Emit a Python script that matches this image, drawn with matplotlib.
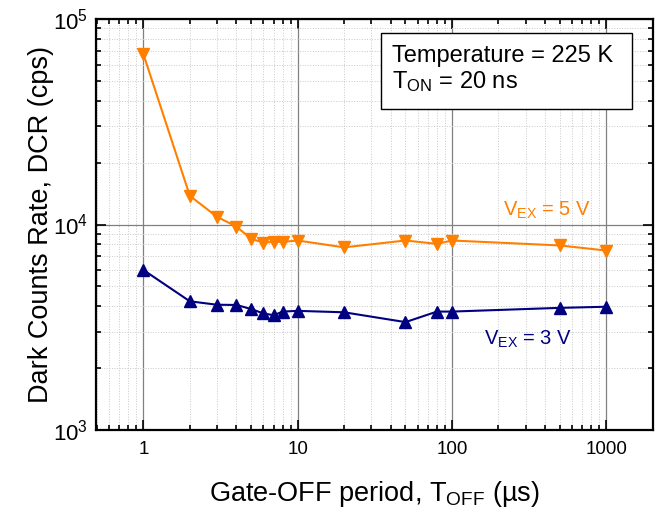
import matplotlib
matplotlib.use('Agg')
import matplotlib.pyplot as plt
from matplotlib.ticker import LogLocator, LogFormatterMathtext, NullFormatter, FixedLocator, FixedFormatter
from matplotlib.patches import Rectangle

plt.rcParams['font.family'] = ['Liberation Sans', 'DejaVu Sans']
plt.rcParams['mathtext.default'] = 'regular'

# gate-off period (us)
t_off = [1, 2, 3, 4, 5, 6, 7, 8, 10, 20, 50, 80, 100, 500, 1000]
# dark count rate (cps)
dcr_5v = [67500, 13800, 10900, 9780, 8510, 8170, 8230, 8230, 8360,
          7740, 8360, 8050, 8360, 7910, 7470]
dcr_3v = [6010, 4230, 4070, 4060, 3880, 3690, 3620, 3770, 3800,
          3740, 3350, 3770, 3770, 3930, 3980]
xticks = [1, 10, 100, 1000]
xticklabels = ['1', '10', '100', '1000']

orange = '#FF8000'
navy = '#000080'

fig = plt.figure(figsize=(6.69, 5.14), dpi=100)
ax = fig.add_axes([0.1435, 0.1634, 0.8325, 0.7996])

ax.plot(t_off, dcr_5v, color=orange, lw=1.5, marker='v', ms=9, mec=orange)
ax.plot(t_off, dcr_3v, color=navy, lw=1.5, marker='^', ms=9, mec=navy)

ax.set_xscale('log')
ax.set_yscale('log')
ax.set_xlim(0.493, 2010)
ax.set_ylim(1e3, 1e5)

ax.xaxis.set_major_locator(FixedLocator(xticks))
ax.xaxis.set_major_formatter(FixedFormatter(xticklabels))
ax.xaxis.set_minor_locator(LogLocator(base=10, subs=range(2, 10), numticks=20))
ax.xaxis.set_minor_formatter(NullFormatter())
ax.yaxis.set_major_locator(LogLocator(base=10, numticks=10))
ax.yaxis.set_major_formatter(LogFormatterMathtext())
ax.yaxis.set_minor_locator(LogLocator(base=10, subs=range(2, 10), numticks=20))
ax.yaxis.set_minor_formatter(NullFormatter())

ax.tick_params(which='both', direction='in', top=True, right=True, width=1.2)
ax.tick_params(which='major', length=7, pad=8)
ax.tick_params(which='minor', length=3.5)
ax.tick_params(axis='x', labelsize=13.5)
ax.tick_params(axis='y', labelsize=16, pad=6)
for s in ax.spines.values():
    s.set_linewidth(1.6)

ax.grid(True, which='major', color='#808080', lw=0.9)
ax.grid(True, which='minor', color='#c8c8c8', lw=0.7, ls=':')
ax.set_axisbelow(True)

ax.set_xlabel(r'Gate-OFF period, T$_{OFF}$ (µs)', fontsize=19.5, labelpad=15)
ax.set_ylabel('Dark Counts Rate, DCR (cps)', fontsize=19.5, labelpad=-1)

ax.text(0.73, 0.535, r'V$_{EX}$ = 5 V', color=orange, fontsize=14.5, transform=ax.transAxes, va='center')
ax.text(0.697, 0.22, r'V$_{EX}$ = 3 V', color=navy, fontsize=14.5, transform=ax.transAxes, va='center')

ax.add_patch(Rectangle((0.512, 0.781), 0.45, 0.185, transform=ax.transAxes,
                       facecolor='white', edgecolor='black', lw=1.0, zorder=5))
ax.text(0.532, 0.91, 'Temperature = 225 K', fontsize=17, transform=ax.transAxes, va='center', zorder=6)
ax.text(0.532, 0.848, r'T$_{ON}$ = 20 ns', fontsize=17, transform=ax.transAxes, va='center', zorder=6)

fig.savefig('out.png', dpi=100)
plt.close(fig)
